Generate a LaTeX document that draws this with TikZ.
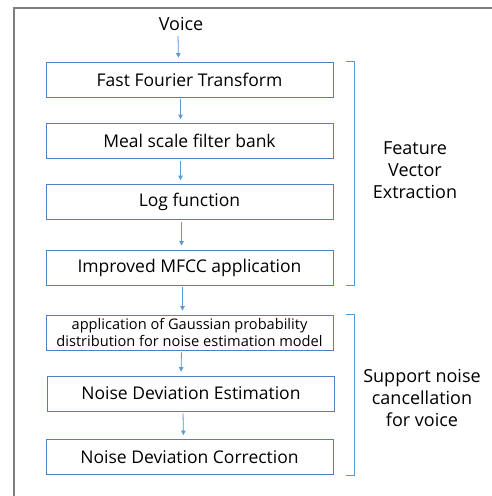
\documentclass[tikz,border=0pt]{standalone}
\usepackage{fontspec}
\setmainfont{Open Sans}
\usepackage{xcolor}
\usetikzlibrary{arrows.meta, positioning}

\definecolor{boxblue}{HTML}{4F81BD}
\definecolor{arrowblue}{HTML}{5B9BD5}
\definecolor{framegray}{HTML}{7F7F7F}

\begin{document}
\begin{tikzpicture}[
    x=1pt, y=-1pt,
    stage/.style={draw=boxblue, line width=0.8pt, minimum width=287pt,
                  minimum height=35pt, align=center, inner sep=0pt,
                  font=\fontsize{17.5}{20}\selectfont},
    flow/.style={-{Triangle[length=4.5pt, width=4.5pt]}, draw=arrowblue,
                 fill=arrowblue, line width=0.8pt, shorten >=4pt, shorten <=2pt},
    brace/.style={draw=arrowblue, line width=0.8pt},
    side/.style={align=center, font=\fontsize{18}{22}\selectfont}
]
\useasboundingbox (0,0) rectangle (492,496);

% outer frame (open to the right and bottom)
\draw[framegray, line width=1.5pt] (14,496) -- (14,8) -- (492,8);

% input
\node (voice) at (181,24) {\fontsize{18}{20}\selectfont Voice};

% feature vector extraction stages
\node[stage] (fft)  at (189.5, 79.5)  {Fast Fourier Transform};
\node[stage] (mel)  at (189.5,141)    {Meal scale filter bank};
\node[stage] (logf) at (189.5,202)    {Log function};
\node[stage] (mfcc) at (189.5,267.5)  {Improved MFCC application};

% noise cancellation stages
\node[stage, font=\fontsize{14.6}{17}\selectfont] (gauss) at (189.5,332.5)
    {application of Gaussian probability\\distribution for noise estimation model};
\node[stage] (devest) at (191,393.5) {Noise Deviation Estimation};
\node[stage] (devcor) at (189.5,457) {Noise Deviation Correction};

\draw[flow] ([xshift=-3pt]voice.south) -- ([xshift=-11pt]fft.north);
\draw[flow] ([xshift=-9pt]fft.south)   -- ([xshift=-9pt]mel.north);
\draw[flow] ([xshift=-9pt]mel.south)   -- ([xshift=-9pt]logf.north);
\draw[flow] ([xshift=-8pt]logf.south)  -- ([xshift=-8pt]mfcc.north);
\draw[flow] ([xshift=-7pt]mfcc.south)  -- ([xshift=-7pt]gauss.north);
\draw[flow] ([xshift=-8pt]gauss.south) -- ([xshift=-10pt]devest.north);
\draw[flow] ([xshift=-8pt]devest.south) -- ([xshift=-6pt]devcor.north);

% group brackets
\draw[brace] ([xshift=13pt]fft.north east) -- ++(8,0) |- ([xshift=13pt]mfcc.south east);
\draw[brace] ([xshift=13pt]gauss.north east) -- ++(8,0) |- ([xshift=13pt]devcor.south east);

\node[side] (fvlabel) at (415,170) {Feature\\Vector\\Extraction};
\node[side] (nclabel) at (422,398) {Support noise\\cancellation\\for voice};
\end{tikzpicture}
\end{document}
